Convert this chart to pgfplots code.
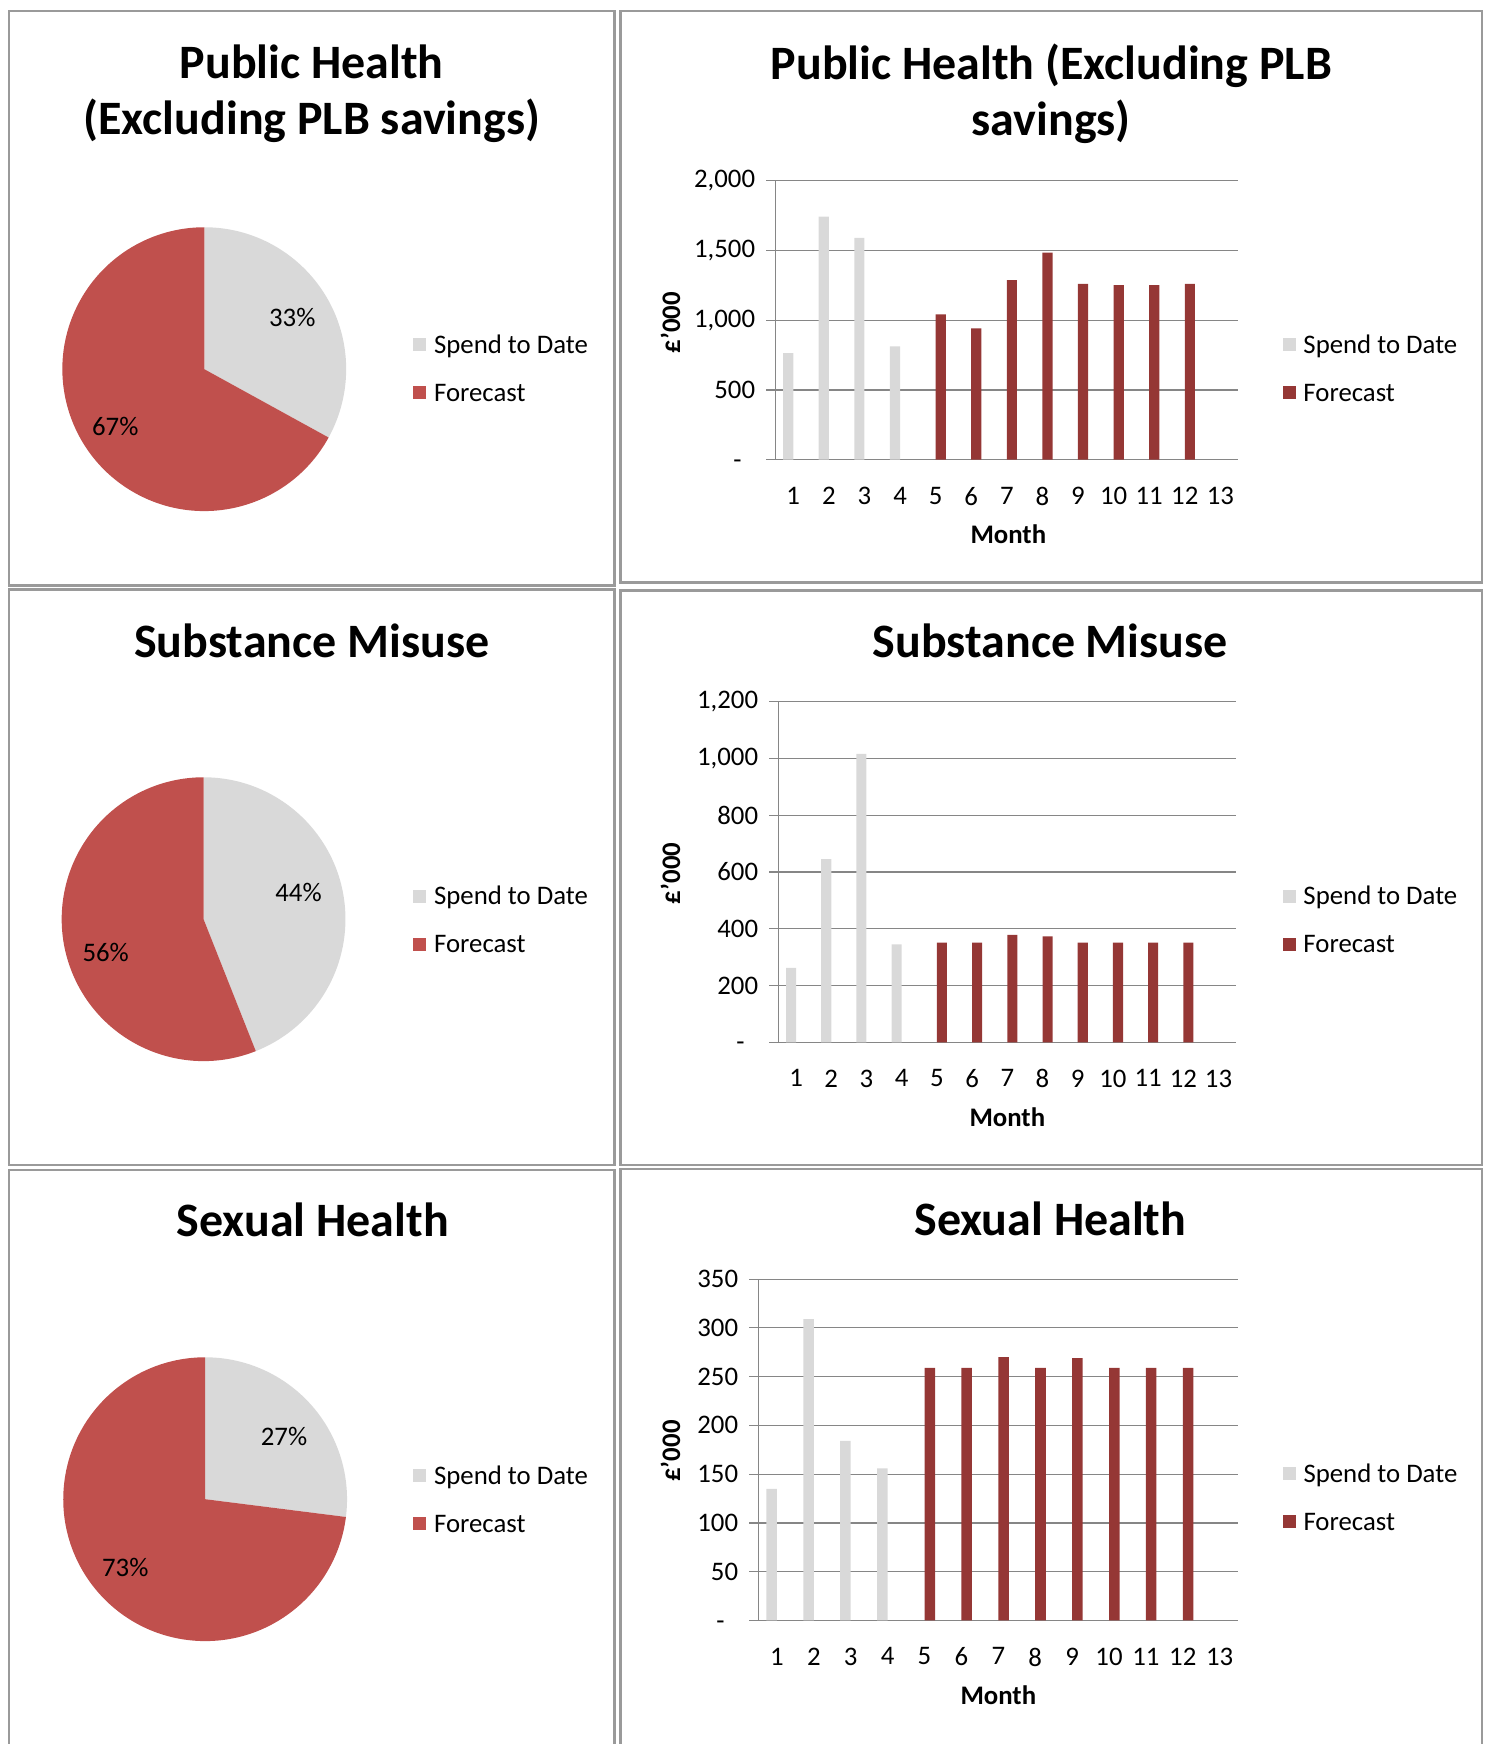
\documentclass[border=0pt]{standalone}
\usepackage{pgfplots}
\pgfplotsset{compat=1.18}
\usepackage{fontspec}
\setmainfont{Carlito}
\definecolor{piegray}{HTML}{D9D9D9}
\definecolor{piered}{HTML}{C0504D}
\definecolor{bargray}{HTML}{D9D9D9}
\definecolor{barred}{HTML}{953735}
\definecolor{gridgray}{HTML}{868686}
\definecolor{framegray}{HTML}{9A9A9A}
\newcommand\tf{\fontsize{13.4}{16}\selectfont}
\newcommand\ttl{\fontsize{24}{28}\selectfont\bfseries}

% pie data (percent of total spent to date)
\def\PHspend{33}
\def\SMspend{44}
\def\SHspend{27}
\pgfmathsetmacro\PHa{90-3.6*\PHspend}
\pgfmathsetmacro\SMa{90-3.6*\SMspend}
\pgfmathsetmacro\SHa{90-3.6*\SHspend}

\pgfplotsset{
  sqlegend/.style={
    legend image code/.code={\fill[##1, draw=none] (0pt,-2pt) rectangle (6.5pt,4.5pt);},
    legend style={draw=none, fill=none, inner sep=0pt, anchor=west,
      row sep=13pt, column sep=4pt, font=\tf,
      nodes={inner sep=0pt, text height=8.5pt, text depth=2.5pt}},
    legend cell align=left,
  },
  pieax/.style={hide axis, x=71pt, y=71pt, xmin=-1, xmax=1, ymin=-1, ymax=1,
    anchor=center, clip=false, sqlegend},
  barax/.style={scale only axis, anchor=south west, clip=false,
    xmin=0.5, xmax=13.5, ymin=0,
    axis lines*=left,
    axis line style={draw=gridgray, line width=0.6pt},
    ymajorgrids, major grid style={draw=gridgray, line width=0.6pt},
    xtick={1,...,13},
    xticklabels={1,2,3,4,5,6,7,8,9,10,11,12,13},
    xtick style={draw=none},
    ytick style={draw=gridgray, line width=0.6pt},
    tick align=outside, major tick length=4.5pt,
    ticklabel style={font=\tf},
    yticklabel style={inner sep=0pt, xshift=-5.5pt},
    xticklabel style={inner sep=0pt, yshift=-9pt},
    xlabel={Month}, ylabel={£'000},
    label style={font=\tf\bfseries},
    sqlegend,
  },
}

\begin{document}
\begin{tikzpicture}
\begin{scope}[x=0.5pt,y=-0.5pt]
  \path (0,0) rectangle (1488,1745);
  % panel frames
  \begin{scope}[draw=framegray, line width=1.2pt]
    \draw (9,11) rectangle (615,586);
    \draw (621,11) rectangle (1483,583);
    \draw (9,590) rectangle (615,1166);
    \draw (621,591) rectangle (1483,1166);
    \draw (9,1745) -- (9,1171) -- (615,1171) -- (615,1745);
    \draw (621,1745) -- (621,1170) -- (1483,1170) -- (1483,1745);
  \end{scope}
  % titles
  \node[anchor=base, font=\ttl] at (312,79) {Public Health};
  \node[anchor=base, font=\ttl] at (312,135) {(Excluding PLB savings)};
  \node[anchor=base, font=\ttl] at (1052,80) {Public Health (Excluding PLB};
  \node[anchor=base, font=\ttl] at (1052,136) {savings)};
  \node[anchor=base, font=\ttl] at (312,658) {Substance Misuse};
  \node[anchor=base, font=\ttl] at (1051,658) {Substance Misuse};
  \node[anchor=base, font=\ttl] at (313,1237) {Sexual Health};
  \node[anchor=base, font=\ttl] at (1051,1236) {Sexual Health};
  % anchor coordinates
  \coordinate (P1) at (204.4,369.4);
  \coordinate (P2) at (203.7,919.8);
  \coordinate (P3) at (205.3,1500.2);
  \coordinate (A1) at (776,460);
  \coordinate (A2) at (779,1043);
  \coordinate (A3) at (759,1621.5);
\end{scope}

% ---------- Pie 1 ----------
\begin{axis}[pieax, at={(P1)}, legend style={at={(axis description cs:1.2345,0.493)}}]
  \fill[piegray] (axis cs:0,0) -- (axis cs:0,1) arc[start angle=90, end angle=\PHa, radius=71pt] -- cycle;
  \fill[piered] (axis cs:0,0) -- (axis cs:{cos(\PHa)},{sin(\PHa)}) arc[start angle=\PHa, end angle=-270, radius=71pt] -- cycle;
  \node[font=\tf] at (axis cs:0.62,0.366) {33\%};
  \node[font=\tf] at (axis cs:-0.627,-0.401) {67\%};
  \addlegendimage{fill=piegray}\addlegendentry{Spend to Date}
  \addlegendimage{fill=piered}\addlegendentry{Forecast}
\end{axis}

% ---------- Pie 2 ----------
\begin{axis}[pieax, at={(P2)}, legend style={at={(axis description cs:1.237,0.4876)}}]
  \fill[piegray] (axis cs:0,0) -- (axis cs:0,1) arc[start angle=90, end angle=\SMa, radius=71pt] -- cycle;
  \fill[piered] (axis cs:0,0) -- (axis cs:{cos(\SMa)},{sin(\SMa)}) arc[start angle=\SMa, end angle=-270, radius=71pt] -- cycle;
  \node[font=\tf] at (axis cs:0.669,0.19) {44\%};
  \node[font=\tf] at (axis cs:-0.69,-0.232) {56\%};
  \addlegendimage{fill=piegray}\addlegendentry{Spend to Date}
  \addlegendimage{fill=piered}\addlegendentry{Forecast}
\end{axis}

% ---------- Pie 3 ----------
\begin{axis}[pieax, at={(P3)}, legend style={at={(axis description cs:1.2313,0.489)}}]
  \fill[piegray] (axis cs:0,0) -- (axis cs:0,1) arc[start angle=90, end angle=\SHa, radius=71pt] -- cycle;
  \fill[piered] (axis cs:0,0) -- (axis cs:{cos(\SHa)},{sin(\SHa)}) arc[start angle=\SHa, end angle=-270, radius=71pt] -- cycle;
  \node[font=\tf] at (axis cs:0.556,0.444) {27\%};
  \node[font=\tf] at (axis cs:-0.563,-0.479) {73\%};
  \addlegendimage{fill=piegray}\addlegendentry{Spend to Date}
  \addlegendimage{fill=piered}\addlegendentry{Forecast}
\end{axis}

% ---------- Bar 1 ----------
\begin{axis}[barax, at={(A1)}, width=231.5pt, height=139.5pt, ymax=2000,
  ytick={0,500,1000,1500,2000},
  yticklabels={{-\phantom{0}},500,{1,000},{1,500},{2,000}},
  xlabel style={at={(axis description cs:0.5032,-0.2688)}, anchor=center},
  ylabel style={at={(axis description cs:-0.2268,0.491)}, anchor=center},
  legend style={at={(axis description cs:1.095,0.318)}}]
  \addplot[ybar, bar width=0.286, bar shift=-0.143, fill=bargray, draw=none, forget plot]
    coordinates {(1,765) (2,1743) (3,1591) (4,812)};
  \addplot[ybar, bar width=0.286, bar shift=0.143, fill=barred, draw=none, forget plot]
    coordinates {(5,1043) (6,942) (7,1288) (8,1486) (9,1262) (10,1252) (11,1252) (12,1262)};
  \addlegendimage{fill=bargray}\addlegendentry{Spend to Date}
  \addlegendimage{fill=barred}\addlegendentry{Forecast}
\end{axis}

% ---------- Bar 2 ----------
\begin{axis}[barax, at={(A2)}, width=229pt, height=170.5pt, ymax=1200,
  ytick={0,200,400,600,800,1000,1200},
  yticklabels={{-\phantom{0}},200,400,600,800,{1,000},{1,200}},
  xlabel style={at={(axis description cs:0.5,-0.2199)}, anchor=center},
  ylabel style={at={(axis description cs:-0.2358,0.4956)}, anchor=center},
  legend style={at={(axis description cs:1.1004,0.351)}}]
  \addplot[ybar, bar width=0.286, bar shift=-0.143, fill=bargray, draw=none, forget plot]
    coordinates {(1,262) (2,645) (3,1016) (4,345)};
  \addplot[ybar, bar width=0.286, bar shift=0.143, fill=barred, draw=none, forget plot]
    coordinates {(5,351) (6,351) (7,378) (8,373) (9,351) (10,351) (11,351) (12,351)};
  \addlegendimage{fill=bargray}\addlegendentry{Spend to Date}
  \addlegendimage{fill=barred}\addlegendentry{Forecast}
\end{axis}

% ---------- Bar 3 ----------
\begin{axis}[barax, at={(A3)}, width=240pt, height=170.75pt, ymax=350,
  ytick={0,50,100,150,200,250,300,350},
  yticklabels={{-\phantom{0}},50,100,150,200,250,300,350},
  xlabel style={at={(axis description cs:0.5,-0.2182)}, anchor=center},
  ylabel style={at={(axis description cs:-0.1833,0.4963)}, anchor=center},
  legend style={at={(axis description cs:1.0917,0.352)}}]
  \addplot[ybar, bar width=0.286, bar shift=-0.143, fill=bargray, draw=none, forget plot]
    coordinates {(1,135) (2,309) (3,184) (4,156)};
  \addplot[ybar, bar width=0.286, bar shift=0.143, fill=barred, draw=none, forget plot]
    coordinates {(5,259) (6,259) (7,270) (8,259) (9,269) (10,259) (11,259) (12,259)};
  \addlegendimage{fill=bargray}\addlegendentry{Spend to Date}
  \addlegendimage{fill=barred}\addlegendentry{Forecast}
\end{axis}
\end{tikzpicture}
\end{document}
